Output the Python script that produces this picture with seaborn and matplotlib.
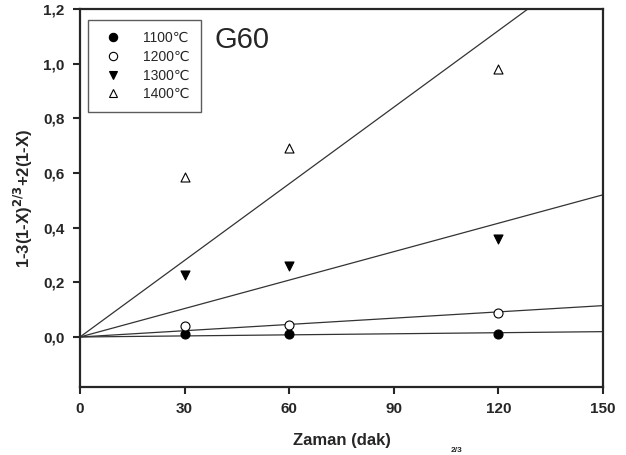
import numpy as np
import pandas as pd
import matplotlib
matplotlib.use("Agg")
import matplotlib.pyplot as plt
from matplotlib.lines import Line2D
from matplotlib.ticker import FuncFormatter
import seaborn as sns

sns.set_style("ticks")
plt.rcParams['font.family'] = ['Liberation Sans', 'DejaVu Sans']

time_min = [30, 60, 120]
temps = ["1100℃", "1200℃", "1300℃", "1400℃"]
y_1100 = [0.010, 0.012, 0.012]
y_1200 = [0.040, 0.045, 0.088]
y_1300 = [0.225, 0.260, 0.360]
y_1400 = [0.585, 0.690, 0.980]
series = [y_1100, y_1200, y_1300, y_1400]

markers = ["o", "o", "v", "^"]
faces = ["black", "white", "black", "white"]

fig = plt.figure(figsize=(6.26, 4.55), dpi=100)
ax = fig.add_axes([80/626, 1 - 387/455, 523/626, 378/455])

x = np.array(time_min, dtype=float)
xfit = np.array([0.0, 150.0])
for ys in series:
    y = np.array(ys)
    slope = np.sum(x * y) / np.sum(x * x)
    sns.lineplot(x=xfit, y=slope * xfit, ax=ax, color="#333333", linewidth=0.9, zorder=1)

for ys, m, fc in zip(series, markers, faces):
    df = pd.DataFrame({"t": time_min, "v": ys})
    sns.scatterplot(data=df, x="t", y="v", ax=ax, marker=m, s=42,
                    facecolor=fc, edgecolor="black", linewidth=0.8, zorder=3)

ax.set_xlim(0, 150)
ax.set_ylim(-0.183, 1.2)
ax.set_xticks([0, 30, 60, 90, 120, 150])
ax.set_yticks([0.0, 0.2, 0.4, 0.6, 0.8, 1.0, 1.2])
ax.yaxis.set_major_formatter(FuncFormatter(lambda v, p: f"{v:.1f}".replace(".", ",")))
for lab in ax.get_xticklabels() + ax.get_yticklabels():
    lab.set_fontweight("bold")
    lab.set_fontsize(11)
ax.tick_params(direction="out", length=5, width=1.5, pad=6)
for sp in ax.spines.values():
    sp.set_linewidth(1.6)
    sp.set_visible(True)

ax.set_xlabel("Zaman (dak)", fontsize=12, fontweight="bold", labelpad=12)
ax.set_ylabel(r"1-3(1-X)$^{\mathbf{2/3}}$+2(1-X)", fontsize=12, fontweight="bold", labelpad=6)

handles = [Line2D([], [], linestyle="none", marker=m, markersize=6,
                  markerfacecolor=fc, markeredgecolor="black", markeredgewidth=0.8)
           for m, fc in zip(markers, faces)]
leg = ax.legend(handles, temps, loc="upper left", bbox_to_anchor=(0.015, 0.972),
                frameon=True, fancybox=False, fontsize=10, handletextpad=1.2,
                borderpad=0.8, labelspacing=0.35, borderaxespad=0)
leg.get_frame().set_edgecolor("#333333")
leg.get_frame().set_linewidth(1.0)

ax.text(0.258, 0.955, "G60", transform=ax.transAxes, fontsize=21, va="top", ha="left")

fig.text(0.72, 0.002, "2/3", fontsize=6, fontweight="bold", ha="left", va="bottom")

fig.savefig("out.png", dpi=100)
